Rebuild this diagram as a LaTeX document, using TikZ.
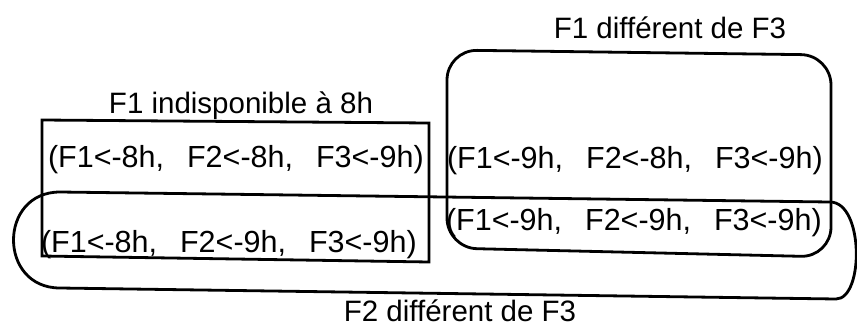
\documentclass[tikz,border=0pt]{standalone}
\usepackage{fontspec}
\setmainfont{Liberation Sans}
\newcommand{\tgap}{\hspace{23pt}}
\begin{document}
\begin{tikzpicture}[x=1pt,y=-1pt,
  every node/.style={inner sep=0pt, outer sep=0pt, font=\fontsize{29.5}{34}\selectfont},
  tuple/.style={anchor=base west, font=\fontsize{30.5}{35}\selectfont},
  title/.style={anchor=base},
  shape line/.style={line width=2.8pt, draw=black}]
\useasboundingbox (0,0) rectangle (857,327);
% sets
\draw[shape line] (42,120) -- (429,123) -- (429,262) -- (42,256) -- cycle;
\draw[shape line, rounded corners=30pt] (447,50) -- (831,55) -- (831,257) -- (447,248) -- cycle;
\draw[shape line] (60,192) -- (830,202) .. controls (864,202) and (864,299) .. (836,299)
  -- (60,288) .. controls (-2,288) and (-2,192) .. (60,192) -- cycle;
% titles
\node[title] (t1) at (241,113) {F1 indisponible à 8h};
\node[title] (t2) at (670,38) {F1 différent de F3};
\node[title] (t3) at (460,321) {F2 différent de F3};
% tuples
\node[tuple] (a) at (48,167) {(F1<-8h,\tgap F2<-8h,\tgap F3<-9h)};
\node[tuple] (b) at (41,252) {(F1<-8h,\tgap F2<-9h,\tgap F3<-9h)};
\node[tuple] (c) at (447,168) {(F1<-9h,\tgap F2<-8h,\tgap F3<-9h)};
\node[tuple] (d) at (446,230) {(F1<-9h,\tgap F2<-9h,\tgap F3<-9h)};
\end{tikzpicture}
\end{document}
